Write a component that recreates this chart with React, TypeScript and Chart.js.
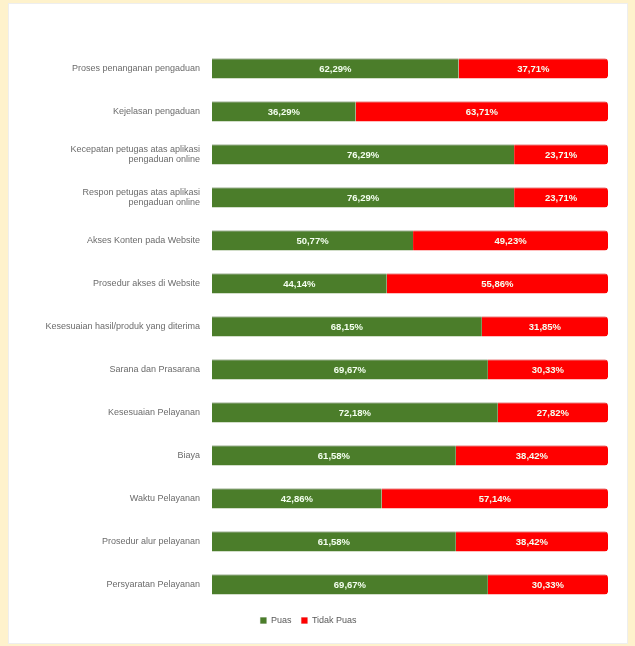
import React, { useEffect, useRef } from "react";
import { Chart, registerables } from "chart.js";

Chart.register(...registerables);

const categories: (string | string[])[] = [
  "Proses penanganan pengaduan",
  "Kejelasan pengaduan",
  ["Kecepatan petugas atas aplikasi", "pengaduan online"],
  ["Respon petugas atas aplikasi", "pengaduan online"],
  "Akses Konten pada Website",
  "Prosedur akses di Website",
  "Kesesuaian hasil/produk yang diterima",
  "Sarana dan Prasarana",
  "Kesesuaian Pelayanan",
  "Biaya",
  "Waktu Pelayanan",
  "Prosedur alur pelayanan",
  "Persyaratan Pelayanan",
];

const puas = [62.29, 36.29, 76.29, 76.29, 50.77, 44.14, 68.15, 69.67, 72.18, 61.58, 42.86, 61.58, 69.67];
const tidakPuas = [37.71, 63.71, 23.71, 23.71, 49.23, 55.86, 31.85, 30.33, 27.82, 38.42, 57.14, 38.42, 30.33];

const seriesNames = ["Puas", "Tidak Puas"];
const GREEN = "#4B7D2A";
const RED = "#FF0000";

const fmt = (v: number) => v.toFixed(2).replace(".", ",") + "%";

const labelPlugin = {
  id: "segLabels",
  afterDatasetsDraw(chart: any) {
    const ctx = chart.ctx;
    ctx.save();
    ctx.font = "bold 9.5px 'Liberation Sans Narrow', 'Liberation Sans', sans-serif";
    ctx.fillStyle = "#f4fff0";
    ctx.textAlign = "center";
    ctx.textBaseline = "middle";
    chart.data.datasets.forEach((ds: any, di: number) => {
      const meta = chart.getDatasetMeta(di);
      meta.data.forEach((el: any, i: number) => {
        const x = (el.x + el.base) / 2;
        ctx.fillText(fmt(ds.data[i]), x, el.y + 1);
      });
    });
    ctx.restore();
  },
};

export default function App() {
  const ref = useRef<HTMLCanvasElement | null>(null);
  useEffect(() => {
    if (!ref.current) return;
    const chart = new Chart(ref.current, {
      type: "bar",
      data: {
        labels: categories,
        datasets: [
          {
            label: seriesNames[0],
            data: puas,
            backgroundColor: GREEN,
            borderColor: "#3a6221",
            borderWidth: { top: 1, left: 0, right: 0, bottom: 0 },
            borderSkipped: "end",
            borderRadius: 3,
            barPercentage: 0.94,
            categoryPercentage: 0.5,
          },
          {
            label: seriesNames[1],
            data: tidakPuas,
            backgroundColor: RED,
            borderColor: "#d40000",
            borderWidth: { top: 1, left: 0, right: 0, bottom: 0 },
            borderSkipped: "start",
            borderRadius: 3,
            barPercentage: 0.94,
            categoryPercentage: 0.5,
          },
        ],
      },
      options: {
        indexAxis: "y",
        animation: false,
        responsive: false,
        maintainAspectRatio: false,
        layout: { padding: { top: 43, right: 19, bottom: 8, left: 0 } },
        scales: {
          x: { stacked: true, min: 0, max: 100, display: false },
          y: {
            stacked: true,
            grid: { display: false, drawTicks: false },
            border: { display: false },
            ticks: {
              color: "#6b6b6b",
              padding: 12,
              font: { size: 9, family: "'Liberation Sans Narrow', 'Liberation Sans', sans-serif" },
            },
            afterFit(scale: any) {
              scale.width = 203;
            },
          },
        },
        plugins: {
          legend: {
            position: "bottom",
            labels: {
              boxWidth: 6,
              boxHeight: 6,
              padding: 10,
              color: "#595959",
              font: { size: 9, family: "'Liberation Sans Narrow', 'Liberation Sans', sans-serif" },
            },
          },
          tooltip: { enabled: false },
        },
      },
      plugins: [labelPlugin],
    });
    return () => chart.destroy();
  }, []);

  return (
    <div
      style={{
        position: "absolute",
        left: 0,
        top: 0,
        width: 635,
        height: 646,
        background: "#FEF2CC",
      }}
    >
      <div
        style={{
          position: "absolute",
          left: 9,
          top: 4,
          width: 618,
          height: 639,
          background: "#ffffff",
          boxShadow: "0 0 0 1px #eeeeee",
        }}
      >
        <canvas ref={ref} width={618} height={639} style={{ display: "block" }} />
      </div>
    </div>
  );
}
